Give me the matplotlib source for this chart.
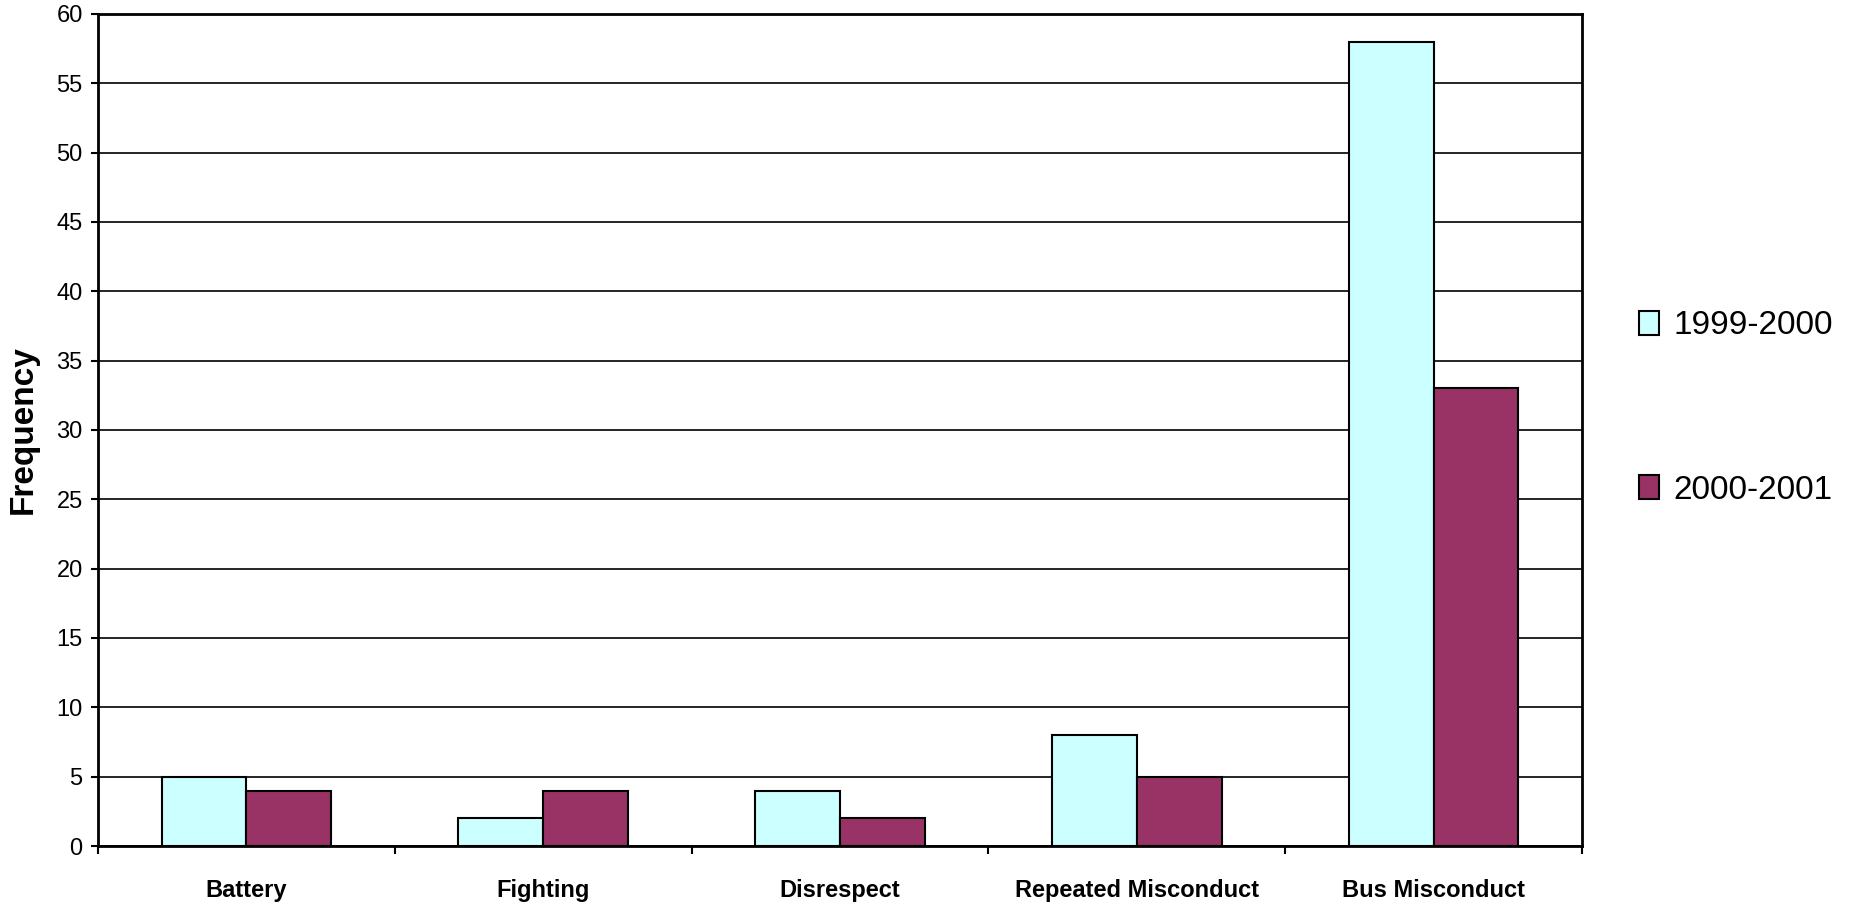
import matplotlib
matplotlib.use("Agg")
import matplotlib.pyplot as plt
import numpy as np

categories = ["Battery", "Fighting", "Disrespect", "Repeated Misconduct", "Bus Misconduct"]
series_names = ["1999-2000", "2000-2001"]
values_1999 = [5, 2, 4, 8, 58]
values_2000 = [4, 4, 2, 5, 33]
yticks = list(range(0, 61, 5))

plt.rcParams['font.family'] = ['Liberation Sans', 'DejaVu Sans']

W, H = 1860, 913
L, R, T, B = 98, 1582, 14, 846
fig = plt.figure(figsize=(W/100, H/100), dpi=100)
ax = fig.add_axes([L/W, 1 - B/H, (R-L)/W, (B-T)/H])

x = np.arange(len(categories))
w = 1/3.5
ax.bar(x - w/2, values_1999, width=w, color="#CCFFFF", edgecolor="black", linewidth=1.5, label=series_names[0], zorder=3)
ax.bar(x + w/2, values_2000, width=w, color="#993366", edgecolor="black", linewidth=1.5, label=series_names[1], zorder=3)

ax.set_xlim(-0.5, len(categories) - 0.5)
ax.set_ylim(0, 60)
ax.set_yticks(yticks)
ax.set_yticklabels([str(v) for v in yticks], fontsize=17)
ax.yaxis.grid(True, color="black", linewidth=1.2, zorder=0)
ax.set_axisbelow(True)

ax.set_xticks(np.arange(len(categories) + 1) - 0.5)
ax.set_xticklabels([])
ax.set_xticks(x, minor=True)
ax.set_xticklabels(categories, minor=True, fontsize=17, fontweight="bold")
ax.tick_params(axis="x", which="minor", length=0, pad=24)
ax.tick_params(axis="x", which="major", length=6, width=1.5, direction="out")
ax.tick_params(axis="y", length=5, width=1.5, direction="out", pad=6)

for s in ax.spines.values():
    s.set_linewidth(2)
    s.set_color("black")

ax.set_ylabel("Frequency", fontsize=24, fontweight="bold", va="center")
ax.yaxis.set_label_coords((23 - L)/(R - L), 0.5)

leg = ax.legend(loc="center left", bbox_to_anchor=(1 + (1639 - R)/(R - L), (B - 408)/(B - T)),
                frameon=False, fontsize=24, labelspacing=4.0, handlelength=0.6, handleheight=0.73,
                handletextpad=0.42, borderaxespad=0, borderpad=0)
for h in leg.legend_handles:
    h.set_linewidth(1.5)

fig.savefig("out.png", dpi=100)
